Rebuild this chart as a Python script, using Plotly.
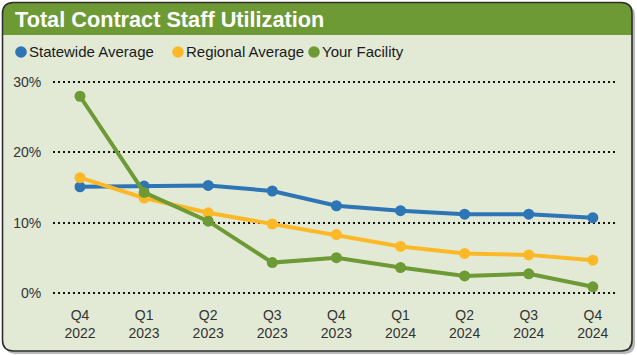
import plotly.graph_objects as go

# ---- data ----
quarters = ["Q4<br>2022", "Q1<br>2023", "Q2<br>2023", "Q3<br>2023", "Q4<br>2023",
            "Q1<br>2024", "Q2<br>2024", "Q3<br>2024", "Q4<br>2024"]
statewide = [15.1, 15.2, 15.3, 14.5, 12.4, 11.7, 11.2, 11.2, 10.7]
regional = [16.4, 13.5, 11.4, 9.8, 8.3, 6.6, 5.6, 5.4, 4.65]
facility = [28.0, 14.3, 10.2, 4.3, 5.0, 3.6, 2.4, 2.7, 0.85]
series_names = ["Statewide Average", "Regional Average", "Your Facility"]
y_ticks = [0, 10, 20, 30]
y_tick_labels = ["0%", "10%", "20%", "30%"]
title_text = "Total Contract Staff Utilization"

# ---- style ----
W, H = 637, 355
ML, MR, MT, MB = 53, 20, 70, 50
PW, PH = W - ML - MR, H - MT - MB
COLORS = ["#2E75B6", "#FDB827", "#6E9A36"]
HEADER = "#6E9A36"
BODY = "#E2EAD6"
FONT = "Liberation Sans, Arial, sans-serif"


def px(x):
    return (x - ML) / PW


def py(y):
    return (H - MB - y) / PH


def rrect(x0, y0, x1, y1, r, top_only=False):
    # rounded rectangle path in paper coords (pixel inputs)
    p = []
    p.append(f"M {px(x0)},{py(y0 + r)}")
    p.append(f"Q {px(x0)},{py(y0)} {px(x0 + r)},{py(y0)}")
    p.append(f"L {px(x1 - r)},{py(y0)}")
    p.append(f"Q {px(x1)},{py(y0)} {px(x1)},{py(y0 + r)}")
    if top_only:
        p.append(f"L {px(x1)},{py(y1)}")
        p.append(f"L {px(x0)},{py(y1)}")
    else:
        p.append(f"L {px(x1)},{py(y1 - r)}")
        p.append(f"Q {px(x1)},{py(y1)} {px(x1 - r)},{py(y1)}")
        p.append(f"L {px(x0 + r)},{py(y1)}")
        p.append(f"Q {px(x0)},{py(y1)} {px(x0)},{py(y1 - r)}")
    p.append("Z")
    return " ".join(p)


fig = go.Figure()
for name, vals, col in zip(series_names, [statewide, regional, facility], COLORS):
    fig.add_trace(go.Scatter(
        x=quarters, y=vals, name=name, mode="lines+markers",
        line=dict(color=col, width=4),
        marker=dict(color=col, size=11),
        showlegend=False,
        hovertemplate="%{y:.1f}%<extra>" + name + "</extra>",
    ))

shapes = []
# shadow
shapes.append(dict(type="path", xref="paper", yref="paper", layer="below",
                   path=rrect(5, 5, 635, 354, 11), fillcolor="#B8B8B8",
                   line=dict(width=0)))
# body
shapes.append(dict(type="path", xref="paper", yref="paper", layer="below",
                   path=rrect(2.5, 2.5, 632, 351, 11), fillcolor=BODY,
                   line=dict(width=0)))
# header
shapes.append(dict(type="path", xref="paper", yref="paper", layer="below",
                   path=rrect(2.5, 2.5, 632, 35, 11, top_only=True), fillcolor=HEADER,
                   line=dict(width=0)))
# border
shapes.append(dict(type="path", xref="paper", yref="paper", layer="below",
                   path=rrect(2.5, 2.5, 632, 351, 11), fillcolor="rgba(0,0,0,0)",
                   line=dict(color="#2F2F2F", width=1.6)))

# legend markers
leg_cx = [21, 178, 314]
leg_tx = [27, 184, 320]
leg_cy = 52
for cx, col in zip(leg_cx, COLORS):
    shapes.append(dict(type="circle", xref="paper", yref="paper", layer="above",
                       x0=px(cx - 5.8), x1=px(cx + 5.8), y0=py(leg_cy + 5.8), y1=py(leg_cy - 5.8),
                       fillcolor=col, line=dict(width=0)))

annotations = [dict(text="<b>" + title_text + "</b>", xref="paper", yref="paper",
                    x=px(13), y=py(19), xanchor="left", yanchor="middle", showarrow=False,
                    font=dict(family=FONT, size=21.7, color="white"))]
for tx, name in zip(leg_tx, series_names):
    annotations.append(dict(text=name, xref="paper", yref="paper",
                            x=px(tx), y=py(leg_cy), xanchor="left", yanchor="middle",
                            showarrow=False,
                            font=dict(family=FONT, size=15, color="#1A1A1A")))

fig.update_layout(
    width=W, height=H,
    margin=dict(l=ML, r=MR, t=MT, b=MB, pad=0),
    paper_bgcolor="white",
    plot_bgcolor="rgba(0,0,0,0)",
    shapes=shapes,
    annotations=annotations,
    showlegend=False,
    font=dict(family=FONT, size=14, color="#333333"),
)
fig.update_xaxes(
    type="category", range=[-0.421, 8.377], showgrid=False, zeroline=False,
    showline=False, ticks="", 
    tickfont=dict(family=FONT, size=14, color="#333333"),
)
fig.update_yaxes(
    range=[-1.74, 31.74], tickmode="array", tickvals=y_ticks, ticktext=y_tick_labels,
    showgrid=True, gridcolor="#111111", gridwidth=2, griddash="2px,3px",
    zeroline=False, showline=False, ticks="outside", ticklen=8,
    tickcolor="rgba(0,0,0,0)",
    tickfont=dict(family=FONT, size=14, color="#333333"),
)

fig.write_html(
    "out.html",
    config={"displayModeBar": False},
    post_script="document.body.style.margin='0';document.body.style.overflow='hidden';",
)
